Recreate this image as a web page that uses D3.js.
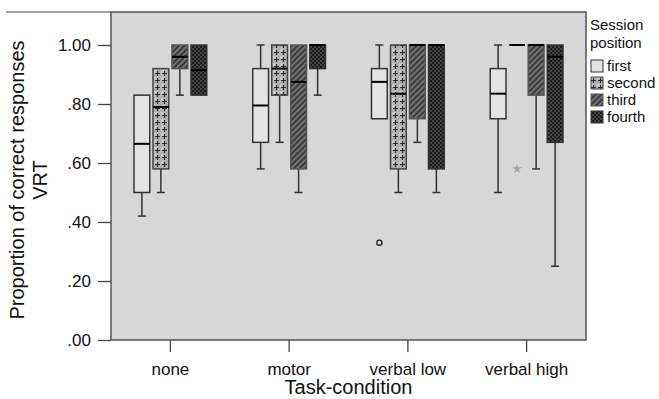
<!DOCTYPE html>
<html><head><meta charset="utf-8">
<script src="https://cdn.jsdelivr.net/npm/d3@7"></script>
<style>
html,body{margin:0;padding:0;background:#fff;}
text{font-family:"Liberation Sans",Arial,sans-serif;fill:#111;}
</style></head>
<body><svg id="c" width="659" height="399"></svg>
<script>
const categories = ["none", "motor", "verbal low", "verbal high"];
const sessions = ["first", "second", "third", "fourth"];
const yTicks = [0, 0.2, 0.4, 0.6, 0.8, 1.0];
const yTickLabels = [".00", ".20", ".40", ".60", ".80", "1.00"];
// stats indexed [session][category]
const whiskerLow = [
  [0.42, 0.58, 0.75, 0.50],
  [0.50, 0.67, 0.50, 1.00],
  [0.83, 0.50, 0.67, 0.58],
  [0.83, 0.83, 0.50, 0.25]
];
const q1 = [
  [0.50, 0.67, 0.75, 0.75],
  [0.58, 0.83, 0.58, 1.00],
  [0.92, 0.58, 0.75, 0.83],
  [0.83, 0.92, 0.58, 0.67]
];
const median = [
  [0.665, 0.795, 0.875, 0.835],
  [0.79, 0.92, 0.835, 1.00],
  [0.96, 0.875, 1.00, 1.00],
  [0.915, 1.00, 1.00, 0.96]
];
const q3 = [
  [0.83, 0.92, 0.92, 0.92],
  [0.92, 1.00, 1.00, 1.00],
  [1.00, 1.00, 1.00, 1.00],
  [1.00, 1.00, 1.00, 1.00]
];
const whiskerHigh = [
  [0.83, 1.00, 1.00, 1.00],
  [0.92, 1.00, 1.00, 1.00],
  [1.00, 1.00, 1.00, 1.00],
  [1.00, 1.00, 1.00, 1.00]
];
const outlierCat = ["verbal low"], outlierSession = ["first"], outlierValue = [0.33];
const extremeCat = ["verbal high"], extremeSession = ["second"], extremeValue = [0.58];

const svg = d3.select("#c");
const L = 111, R = 586, T = 12, B = 340;
const x = d3.scaleBand().domain(categories).range([L, R]).padding(0);
const xs = d3.scaleBand().domain(sessions).range([-38, 38]).paddingInner(0.17).paddingOuter(0.085);
const y = d3.scaleLinear().domain([0, 1]).range([B, 45]);

// patterns
const defs = svg.append("defs");
const p2 = defs.append("pattern").attr("id","pSecond").attr("patternUnits","userSpaceOnUse").attr("width",7).attr("height",7);
p2.append("rect").attr("width",7).attr("height",7).attr("fill","#b0b0b0");
p2.append("rect").attr("width",3).attr("height",3).attr("fill","#c8c8c8");
p2.append("path").attr("d","M3.5,1V6M1,3.5H6").attr("stroke","#2a2a2a").attr("stroke-width",1.2);
const p3 = defs.append("pattern").attr("id","pThird").attr("patternUnits","userSpaceOnUse").attr("width",4).attr("height",4).attr("patternTransform","rotate(45)");
p3.append("rect").attr("width",4).attr("height",4).attr("fill","#3c3c3c");
p3.append("rect").attr("width",1.6).attr("height",4).attr("fill","#7e7e7e");
const p4 = defs.append("pattern").attr("id","pFourth").attr("patternUnits","userSpaceOnUse").attr("width",4).attr("height",4);
p4.append("rect").attr("width",4).attr("height",4).attr("fill","#1c1c1c");
p4.append("rect").attr("width",2).attr("height",2).attr("fill","#444");
p4.append("rect").attr("x",2).attr("y",2).attr("width",2).attr("height",2).attr("fill","#444");
const fills = ["#e3e3e3", "url(#pSecond)", "url(#pThird)", "url(#pFourth)"];
const strokes = ["#333", "#444", "#555", "#333"];

// plot background
svg.append("rect").attr("x",L).attr("y",T).attr("width",R-L).attr("height",B-T).attr("fill","#d7d7d7");
svg.append("line").attr("x1",6).attr("x2",L).attr("y1",T).attr("y2",T).attr("stroke","#444").attr("stroke-width",1);

// boxes
sessions.forEach((s, si) => {
  categories.forEach((c, ci) => {
    const cx = x(c) + x.bandwidth()/2 + xs(s) + xs.bandwidth()/2;
    const bx = cx - xs.bandwidth()/2, bw = xs.bandwidth();
    const g = svg.append("g");
    const cap = 4;
    if (whiskerLow[si][ci] < q1[si][ci]) {
      g.append("line").attr("x1",cx).attr("x2",cx).attr("y1",y(q1[si][ci])).attr("y2",y(whiskerLow[si][ci])).attr("stroke","#333").attr("stroke-width",1.5);
      g.append("line").attr("x1",cx-cap).attr("x2",cx+cap).attr("y1",y(whiskerLow[si][ci])).attr("y2",y(whiskerLow[si][ci])).attr("stroke","#333").attr("stroke-width",1.5);
    }
    if (whiskerHigh[si][ci] > q3[si][ci]) {
      g.append("line").attr("x1",cx).attr("x2",cx).attr("y1",y(q3[si][ci])).attr("y2",y(whiskerHigh[si][ci])).attr("stroke","#333").attr("stroke-width",1.5);
      g.append("line").attr("x1",cx-cap).attr("x2",cx+cap).attr("y1",y(whiskerHigh[si][ci])).attr("y2",y(whiskerHigh[si][ci])).attr("stroke","#333").attr("stroke-width",1.5);
    }
    const h = y(q1[si][ci]) - y(q3[si][ci]);
    if (h > 0) {
      g.append("rect").attr("x",bx).attr("y",y(q3[si][ci])).attr("width",bw).attr("height",h)
        .attr("fill",fills[si]).attr("stroke",strokes[si]).attr("stroke-width",1.5);
    }
    g.append("line").attr("x1",bx).attr("x2",bx+bw).attr("y1",y(median[si][ci])).attr("y2",y(median[si][ci]))
      .attr("stroke","#000").attr("stroke-width",2);
  });
});

// outliers
outlierValue.forEach((v, i) => {
  const cx = x(outlierCat[i]) + x.bandwidth()/2 + xs(outlierSession[i]) + xs.bandwidth()/2;
  svg.append("circle").attr("cx",cx).attr("cy",y(v)).attr("r",2.6).attr("fill","none").attr("stroke","#222").attr("stroke-width",1.3);
});
extremeValue.forEach((v, i) => {
  const cx = x(extremeCat[i]) + x.bandwidth()/2 + xs(extremeSession[i]) + xs.bandwidth()/2;
  svg.append("path").attr("d", d3.symbol(d3.symbolStar, 30)()).attr("transform",`translate(${cx},${y(v)})`).attr("fill","#a8a8a8");
});

// frame
svg.append("rect").attr("x",L).attr("y",T).attr("width",R-L).attr("height",B-T).attr("fill","none").attr("stroke","#555").attr("stroke-width",1.5);

// y axis
const yAxis = svg.append("g").attr("transform",`translate(${L},0)`)
  .call(d3.axisLeft(y).tickValues(yTicks).tickFormat((d,i)=>yTickLabels[i]).tickSize(13).tickPadding(7));
yAxis.select(".domain").remove();
yAxis.selectAll("line").attr("stroke","#444").attr("stroke-width",1.3);
yAxis.selectAll("text").attr("font-size",17).attr("fill","#111").attr("font-family","Liberation Sans, Arial, sans-serif");

// x axis
const xAxis = svg.append("g").attr("transform",`translate(0,${B})`)
  .call(d3.axisBottom(x).tickSize(12).tickPadding(11));
xAxis.select(".domain").remove();
xAxis.selectAll("line").attr("stroke","#444").attr("stroke-width",1.3);
xAxis.selectAll("text").attr("font-size",17).attr("fill","#111").attr("font-family","Liberation Sans, Arial, sans-serif");

// titles
svg.append("text").attr("x",(L+R)/2).attr("y",394).attr("text-anchor","middle").attr("font-size",20).text("Task-condition");
const yt = svg.append("text").attr("transform","translate(0,180) rotate(-90)").attr("text-anchor","middle").attr("font-size",20);
yt.append("tspan").attr("x",0).attr("y",24).text("Proportion of correct responses");
yt.append("tspan").attr("x",0).attr("y",47).text("VRT");

// legend
const lg = svg.append("g").attr("transform","translate(590,0)");
lg.append("text").attr("x",0).attr("y",30).attr("font-size",15).text("Session");
lg.append("text").attr("x",0).attr("y",48).attr("font-size",15).text("position");
sessions.forEach((s, si) => {
  const yy = 60 + si*17;
  lg.append("rect").attr("x",1).attr("y",yy).attr("width",12).attr("height",12).attr("fill",fills[si]).attr("stroke",strokes[si]).attr("stroke-width",1);
  lg.append("text").attr("x",17).attr("y",yy+11).attr("font-size",15).text(s);
});
</script></body></html>
